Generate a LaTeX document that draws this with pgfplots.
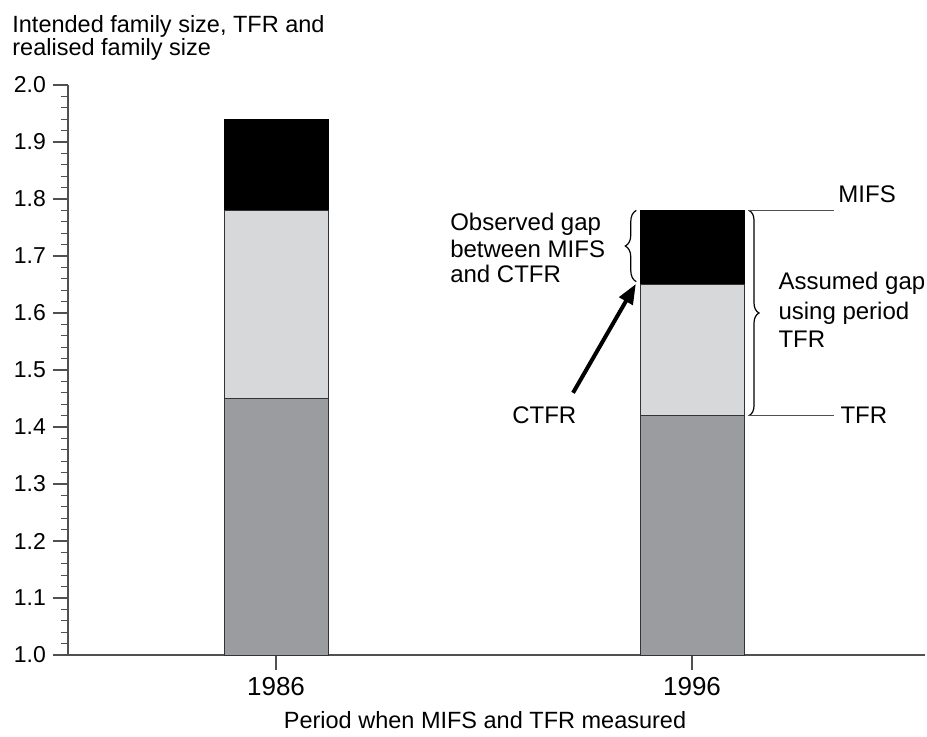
\documentclass[border=0pt]{standalone}
\usepackage{pgfplots}
\pgfplotsset{compat=1.18}
\usepackage{pgfplotstable}
\usepackage{fontspec}
\setmainfont{Liberation Sans}
\usetikzlibrary{decorations.pathreplacing,arrows.meta}
\definecolor{bargray}{HTML}{9B9CA0}
\definecolor{barlight}{HTML}{D7D8DA}
\definecolor{axgray}{HTML}{505050}

% stacked increments: period TFR, gap TFR->CTFR, gap CTFR->MIFS
\pgfplotstableread{
x base gap top
0 1.45 0.33 0.16
1 1.42 0.23 0.13
}\data

\begin{document}
\begin{tikzpicture}[font=\fontsize{12}{14}\selectfont]
\begin{axis}[
  scale only axis, width=428.5pt, height=285pt,
  xmin=-0.5, xmax=1.56, ymin=1, ymax=2,
  axis x line*=bottom, axis y line*=left,
  axis line style={axgray, line width=0.6pt, -},
  clip mode=individual,
  ybar stacked, bar width=52pt,
  xtick={0,1}, xticklabels={1986,1996},
  ytick={1,1.1,1.2,1.3,1.4,1.5,1.6,1.7,1.8,1.9,2},
  minor y tick num=4,
  tick align=outside,
  major tick length=7.5pt, minor tick length=3.5pt,
  tick style={axgray, line width=0.6pt},
  every tick/.style={axgray, line width=0.6pt},
  minor tick style={axgray, line width=0.6pt},
  /pgf/number format/assume math mode=true,
  yticklabel style={/pgf/number format/.cd, fixed, fixed zerofill, precision=1, /tikz/.cd, font=\fontsize{11.5}{13}\selectfont},
  xticklabel style={font=\fontsize{13}{15}\selectfont},
]
\addplot[fill=bargray, draw=black!80, line width=0.5pt] table[x=x,y=base]{\data};
\addplot[fill=barlight, draw=black!80, line width=0.5pt] table[x=x,y=gap]{\data};
\addplot[fill=black, draw=black, line width=0.5pt] table[x=x,y=top]{\data};

\coordinate (O) at (rel axis cs:0,0);

% title (y label)
\node[anchor=base west, inner sep=0, font=\fontsize{11.75}{14}\selectfont] at ([shift={(-28pt,26.5pt)}]rel axis cs:0,1) {Intended family size, TFR and};
\node[anchor=base west, inner sep=0, font=\fontsize{11.75}{14}\selectfont] at ([shift={(-28pt,15pt)}]rel axis cs:0,1) {realised family size};
% x label
\node[anchor=base, inner sep=0, font=\fontsize{11.75}{14}\selectfont] at ([shift={(0pt,-36.5pt)}]rel axis cs:0.4866,0) {Period when MIFS and TFR measured};

% right annotations
\draw[axgray, line width=0.6pt] (axis cs:1.135,1.78) -- (axis cs:1.341,1.78);
\draw[axgray, line width=0.6pt] (axis cs:1.135,1.42) -- (axis cs:1.341,1.42);
\node[anchor=base west, inner sep=0] at (axis cs:1.351,1.793) {MIFS};
\node[anchor=base west, inner sep=0] at (axis cs:1.356,1.407) {TFR};
\draw[black, line width=0.6pt, decorate, decoration={brace, amplitude=5pt}] (axis cs:1.137,1.78) -- (axis cs:1.137,1.42);
\node[anchor=base west, inner sep=0] at (axis cs:1.207,1.642) {Assumed gap};
\node[anchor=base west, inner sep=0] at (axis cs:1.207,1.589) {using period};
\node[anchor=base west, inner sep=0] at (axis cs:1.207,1.540) {TFR};

% left annotations
\draw[black, line width=0.6pt, decorate, decoration={brace, amplitude=5.5pt}] (axis cs:0.866,1.655) -- (axis cs:0.866,1.78);
\node[anchor=base west, inner sep=0] at (axis cs:0.418,1.744) {Observed gap};
\node[anchor=base west, inner sep=0] at (axis cs:0.418,1.698) {between MIFS};
\node[anchor=base west, inner sep=0] at (axis cs:0.418,1.653) {and CTFR};
\draw[line width=2pt, -{Triangle[length=10pt,width=7.5pt]}] (axis cs:0.714,1.460) -- (axis cs:0.865,1.651);
\node[anchor=base west, inner sep=0] at (axis cs:0.567,1.407) {CTFR};
\end{axis}
\pgfresetboundingbox
\path[use as bounding box] ([shift={(-34pt,-40.5pt)}]O) rectangle ++(463.5pt,368pt);
\end{tikzpicture}
\end{document}
